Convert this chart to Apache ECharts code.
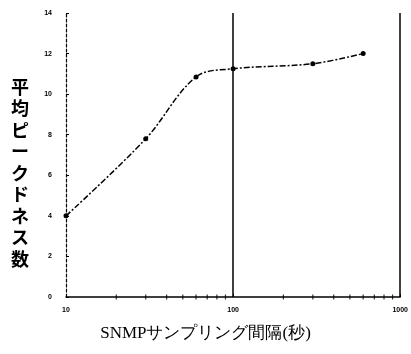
<!DOCTYPE html>
<html><head><meta charset="utf-8">
<script src="https://cdn.jsdelivr.net/npm/echarts@6/dist/echarts.min.js"></script>
<style>html,body{margin:0;padding:0;background:#fff}#c{width:411px;height:354px}</style>
</head><body><div id="c"></div>
<script>
const xValues = [10, 30, 60, 100, 300, 600];
const yValues = [4.0, 7.8, 10.85, 11.25, 11.5, 12.0];
const yTicks = [0, 2, 4, 6, 8, 10, 12, 14];
const xTickLabels = {10: '10', 100: '100', 1000: '1000'};
const xMinorTicks = [20, 30, 40, 50, 60, 70, 80, 90, 200, 300, 400, 500, 600, 700, 800, 900];
const refLines = [100, 1000];
const xTitle = 'SNMPサンプリング間隔(秒)';
const yTitle = '平均ピークドネス数';

const chart = echarts.init(document.getElementById('c'));
chart.setOption({
  animation: false,
  backgroundColor: '#fff',
  grid: {left: 66, right: 10, top: 13, bottom: 57},
  xAxis: {
    type: 'log', logBase: 10, min: 10, max: 1000,
    axisLine: {lineStyle: {color: '#000', width: 1.5}},
    axisTick: {show: true, length: 3, inside: true, lineStyle: {color: '#000'}},
    splitLine: {show: false},
    axisLabel: {fontSize: 7, fontWeight: 'bold', color: '#000', margin: 10,
      formatter: v => xTickLabels[Math.round(v)] || ''}
  },
  yAxis: {
    type: 'value', min: 0, max: 14, interval: 2,
    axisLine: {show: true, lineStyle: {color: '#000', width: 1.2, type: [3, 2]}},
    axisTick: {show: true, length: 3, inside: true, lineStyle: {color: '#000'}},
    splitLine: {show: false},
    axisLabel: {fontSize: 7, fontWeight: 'bold', color: '#000', margin: 14,
      formatter: v => yTicks.includes(v) ? String(v) : ''}
  },
  graphic: [
    {type: 'text', left: 'center', top: 325, style: {text: xTitle, font: '17px "Liberation Serif"', fill: '#000'}},
    {type: 'text', left: 11, top: 76, style: {text: yTitle.split('').join('\n'), font: 'bold 18px "Noto Sans CJK JP"', fill: '#000', lineHeight: 21.5}}
  ],
  series: [{
    type: 'line',
    data: xValues.map((x, i) => [x, yValues[i]]),
    smooth: 0.35,
    symbol: 'circle', symbolSize: 5,
    itemStyle: {color: '#000'},
    lineStyle: {color: '#000', width: 1.5, type: [6, 2, 2, 2]},
    markLine: {
      silent: true, symbol: 'none', label: {show: false},
      lineStyle: {color: '#000', width: 1.5, type: 'solid'},
      data: refLines.map(v => ({xAxis: v}))
    }
  }, {
    type: 'scatter',
    silent: true,
    data: xMinorTicks.map(x => [x, 0]),
    symbol: 'rect', symbolSize: [1.2, 5],
    itemStyle: {color: '#000'}
  }]
});
</script></body></html>
